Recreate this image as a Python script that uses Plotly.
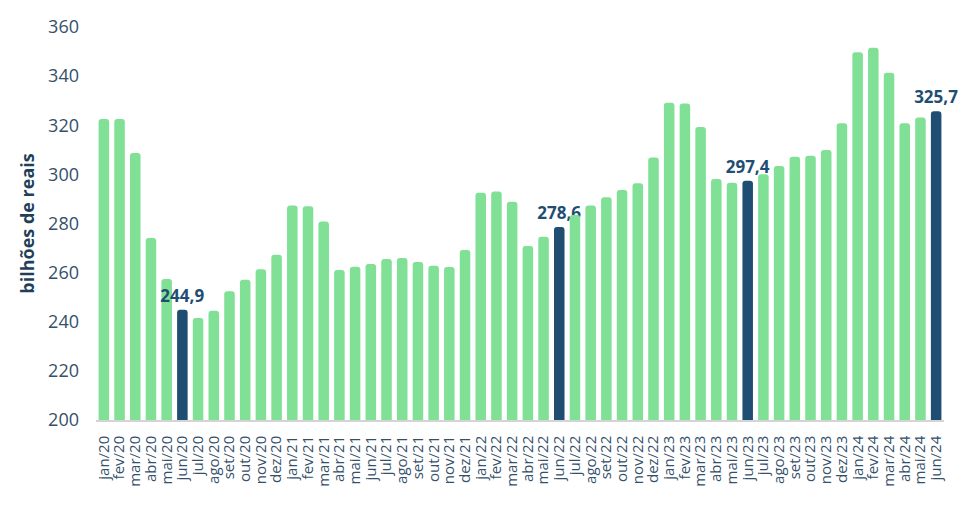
import plotly.graph_objects as go

months = ["jan", "fev", "mar", "abr", "mai", "jun", "jul", "ago", "set", "out", "nov", "dez"]
categories = [f"{m}/{y}" for y in ["20", "21", "22", "23"] for m in months] + \
             [f"{m}/24" for m in months[:6]]

values = [
    322.5, 322.5, 308.7, 274.1, 257.4, 244.9, 241.5, 244.5, 252.4, 257.1, 261.4, 267.3,
    287.3, 287.0, 280.8, 261.1, 262.4, 263.5, 265.5, 266.0, 264.3, 262.8, 262.3, 269.2,
    292.5, 293.0, 288.9, 270.8, 274.6, 278.6, 283.5, 287.3, 290.7, 293.6, 296.4, 306.9,
    329.2, 328.9, 319.3, 298.1, 296.6, 297.4, 300.0, 303.4, 307.2, 307.6, 309.9, 320.8,
    349.7, 351.6, 341.4, 320.8, 323.2, 325.7,
]

highlighted = ["jun/20", "jun/22", "jun/23", "jun/24"]

GREEN = "#7fe096"
NAVY = "#1f4e72"
TEXT = "#34506a"

colors = [NAVY if c in highlighted else GREEN for c in categories]
labels = [f"{v:.1f}".replace(".", ",") if c in highlighted else "" for c, v in zip(categories, values)]

fig = go.Figure(go.Bar(
    x=categories,
    y=values,
    marker=dict(color=colors, cornerradius=3, line=dict(width=0)),
    text=labels,
    textposition="outside",
    textfont=dict(family="Open Sans", size=17, color=NAVY, weight="bold"),
    cliponaxis=False,
))

fig.update_layout(
    width=980, height=508,
    margin=dict(l=88, r=44, t=19, b=96, autoexpand=False),
    paper_bgcolor="white", plot_bgcolor="white",
    bargap=0.33,
    showlegend=False,
    font=dict(family="Open Sans", color=TEXT),
    xaxis=dict(
        type="category", tickangle=-90, tickfont=dict(size=15, color=TEXT),
        tickmode="array", tickvals=categories, ticktext=categories,
        showgrid=False, showline=True, linecolor="#d4d4d4", linewidth=1.5,
        ticks="", ticklen=0, ticklabelstandoff=8, automargin=False,
    ),
    yaxis=dict(
        range=[200, 360], dtick=20, tick0=200, showgrid=False, zeroline=False,
        tickfont=dict(size=18, color=TEXT), ticks="", ticklabelstandoff=16,
        automargin=False,
        title=dict(text="bilhões de reais", font=dict(size=18, color="#1f3f5a", weight="bold"), standoff=8),
    ),
    uniformtext=dict(minsize=8, mode="show"),
)

fig.write_html("out.html")
